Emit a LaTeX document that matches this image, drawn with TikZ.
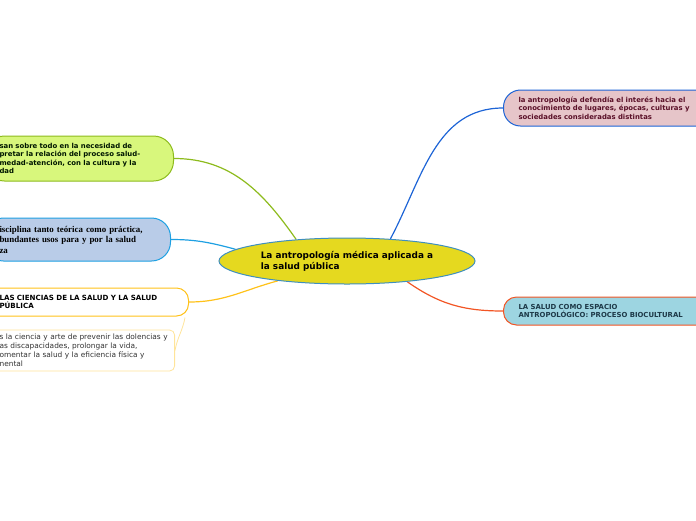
\documentclass[tikz,border=0pt]{standalone}
\usepackage{fontspec}
\usetikzlibrary{shapes.geometric,backgrounds}
\newfontfamily\verd{DejaVu Sans}
\newfontfamily\tms{Liberation Serif}
\definecolor{mainfill}{HTML}{E5D91F}
\definecolor{mainline}{HTML}{3F8FBF}
\definecolor{limefill}{HTML}{D8F77C}
\definecolor{limeline}{HTML}{8DBB1D}
\definecolor{skyfill}{HTML}{B9CCE8}
\definecolor{skyline}{HTML}{1EA0E2}
\definecolor{goldline}{HTML}{FFC21A}
\definecolor{paleline}{HTML}{FFE49A}
\definecolor{rosefill}{HTML}{E6C5C9}
\definecolor{roseline}{HTML}{1D64D6}
\definecolor{rosetext}{HTML}{5A1028}
\definecolor{tealfill}{HTML}{9DD5E1}
\definecolor{tealline}{HTML}{F25524}
\definecolor{tealtext}{HTML}{1E3A48}
\tikzset{
  topic/.style={draw, line width=1pt, align=left, inner xsep=15pt, inner ysep=0pt,
    font=\verd\bfseries\fontsize{6.9}{8.6}\selectfont},
  link/.style={line width=1.2pt},
}
\begin{document}
\begin{tikzpicture}[x=1pt,y=-1pt]
\useasboundingbox (0,0) rectangle (696,520);
\clip (0,0) rectangle (696,520);

\node[ellipse, draw=mainline, fill=mainfill, line width=1pt, minimum width=256pt, minimum height=46pt,
  align=left, font=\verd\bfseries\fontsize{8.9}{11}\selectfont] (main) at (347,261)
  {La antropología médica aplicada a\\la salud pública};

\node[topic, anchor=west, fill=rosefill, draw=roseline, text=rosetext, rounded corners=17pt,
  minimum height=36pt, text width=190pt] (epocas) at (503,108)
  {la antropología defendía el interés hacia el\\conocimiento de lugares, épocas, culturas y\\sociedades consideradas distintas};
\node[topic, anchor=west, fill=tealfill, draw=tealline, text=tealtext, rounded corners=13pt,
  minimum height=28pt, text width=190pt] (espacio) at (503,311)
  {LA SALUD COMO ESPACIO\\ANTROPOLÓGICO: PROCESO BIOCULTURAL};

\node[topic, anchor=east, fill=limefill, draw=limeline, text=black!85!green!60!black, rounded corners=20pt,
  minimum height=45pt, text width=159pt] (necesidad) at (174,158.5)
  {san sobre todo en la necesidad de\\pretar la relación del proceso salud-\\medad-atención, con la cultura y la\\dad};
\node[topic, anchor=east, fill=skyfill, draw=skyline, rounded corners=19pt,
  minimum height=43pt, text width=156pt, font=\tms\bfseries\fontsize{8.9}{10.5}\selectfont] (disciplina) at (171,239.5)
  {isciplina tanto teórica como práctica,\\bundantes usos para y por la salud\\za};
\node[topic, anchor=east, fill=white, draw=goldline, rounded corners=12pt,
  minimum height=28pt, text width=174pt, font=\verd\bfseries\fontsize{7.1}{8.6}\selectfont] (ciencias) at (189,302)
  {LAS CIENCIAS DE LA SALUD Y LA SALUD\\PÚBLICA};
\node[topic, anchor=east, fill=white, draw=paleline, line width=0.8pt, rounded corners=5pt,
  inner xsep=5pt, minimum height=41pt, text width=170pt, text=black!80,
  font=\verd\fontsize{7.4}{9}\selectfont] (definicion) at (175,350.5)
  {s la ciencia y arte de prevenir las dolencias y\\as discapacidades, prolongar la vida,\\omentar la salud y la eficiencia física y\\nental};

\begin{scope}[on background layer]
  \draw[link, roseline] (main.27) to[out=62,in=180] (epocas.west);
  \draw[link, tealline] (main.341) to[out=-35,in=180] (espacio.west);
  \draw[link, limeline] (main.157) to[out=125,in=0] (necesidad.east);
  \draw[link, skyline] (main.174) to[out=165,in=0] (disciplina.east);
  \draw[link, goldline] (main.196) to[out=195,in=0] (ciencias.east);
\end{scope}
\draw[paleline, line width=0.8pt] (ciencias.south east) ++(-4,1) to[out=-100,in=80] (definicion.east);
\end{tikzpicture}
\end{document}
